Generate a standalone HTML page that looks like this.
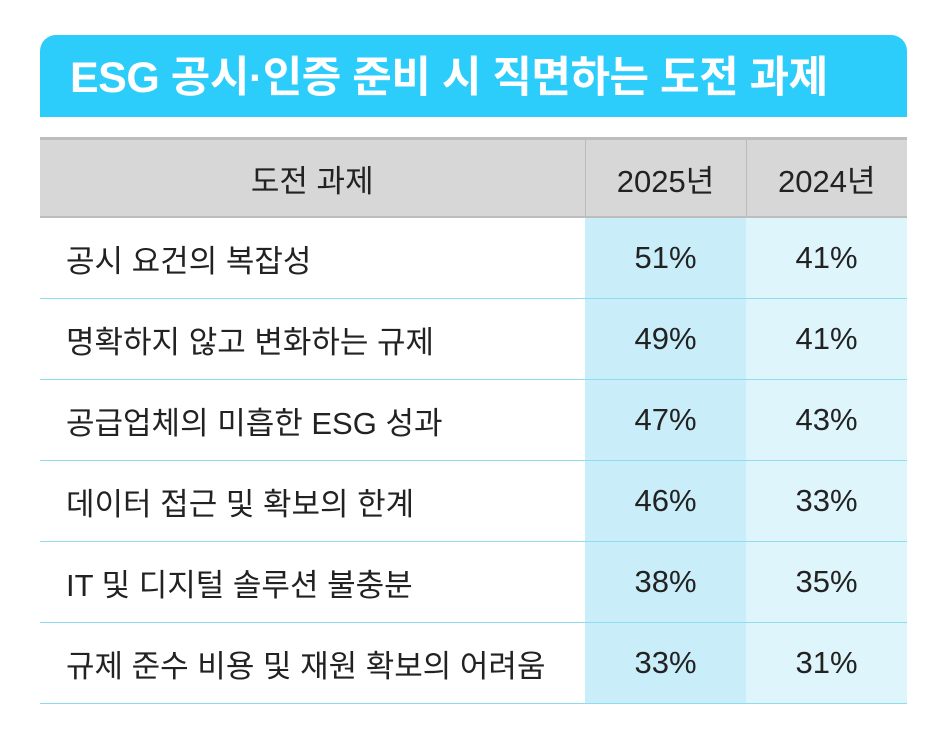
<!DOCTYPE html>
<html><head><meta charset="utf-8"><style>
body{margin:0;width:952px;height:745px;background:#fff;font-family:"Liberation Sans","Noto Sans CJK KR",sans-serif;position:relative;overflow:hidden}
.title{position:absolute;left:40px;top:35px;width:867px;height:82px;background:#2ccdfb;border-radius:16px 16px 0 0;color:#fff;font-size:43px;font-weight:bold;line-height:86px;box-sizing:border-box;padding-left:30px;letter-spacing:-0.5px}
table{position:absolute;left:40px;top:137px;width:867px;border-collapse:collapse;font-size:31px;color:#222}
th{background:#d7d7d7;height:76px;font-weight:normal;border-top:3px solid #bdbdbd;border-bottom:2px solid #bdbdbd;padding:0}
th+th{border-left:1px solid #bbb}
td{height:80px;border-bottom:1.5px solid #8fdcef;padding:0}
td:first-child{padding-left:26px}
td.a{background:#c9eefa;text-align:center;width:161px}
td.b{background:#dff5fc;text-align:center;width:161px}
</style></head><body>
<div class="title">ESG 공시·인증 준비 시 직면하는 도전 과제</div>
<table>
<tr><th>도전 과제</th><th>2025년</th><th>2024년</th></tr>
<tr><td>공시 요건의 복잡성</td><td class="a">51%</td><td class="b">41%</td></tr>
<tr><td>명확하지 않고 변화하는 규제</td><td class="a">49%</td><td class="b">41%</td></tr>
<tr><td>공급업체의 미흡한 ESG 성과</td><td class="a">47%</td><td class="b">43%</td></tr>
<tr><td>데이터 접근 및 확보의 한계</td><td class="a">46%</td><td class="b">33%</td></tr>
<tr><td>IT 및 디지털 솔루션 불충분</td><td class="a">38%</td><td class="b">35%</td></tr>
<tr><td>규제 준수 비용 및 재원 확보의 어려움</td><td class="a">33%</td><td class="b">31%</td></tr>
</table>
</body></html>
